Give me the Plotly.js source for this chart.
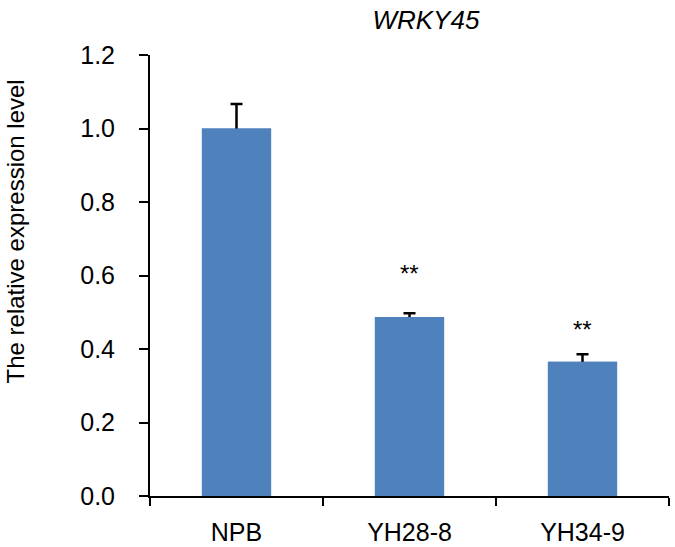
<!DOCTYPE html>
<html>
<head>
<meta charset="utf-8">
<script src="https://cdn.plot.ly/plotly-3.0.1.min.js"></script>
<style>
  html, body { margin: 0; padding: 0; background: #fff; }
  #myDiv { width: 675px; height: 547px; }
</style>
</head>
<body>
<div id="myDiv"></div>
<script>
'use strict';
var lines = ['NPB', 'YH28-8', 'YH34-9'];
var expression = [1.0, 0.487, 0.365];
var errors = [0.067, 0.010, 0.021];
var marks = ['', '**', '**'];
var yTicks = [0, 0.2, 0.4, 0.6, 0.8, 1.0, 1.2];

var fontFam = 'Liberation Sans, Arial, sans-serif';
var barBlue = 'rgb(79,129,189)';

// bars with the error bars, the lower half of each is hidden by the copy drawn on top
var trace1 = {
  type: 'bar',
  x: lines,
  y: expression,
  width: 0.4,
  marker: {color: barBlue},
  error_y: {
    type: 'data',
    array: errors,
    color: '#000',
    thickness: 2.5,
    width: 6
  }
};
var trace2 = {
  type: 'bar',
  x: lines,
  y: expression,
  width: 0.4,
  marker: {color: barBlue}
};

// pixel lift of the stars above each error bar
var lift = [0, 24, 9];
var notes = [];
lines.forEach(function (name, i) {
  if (!marks[i]) return;
  notes.push({
    x: name,
    y: expression[i] + errors[i],
    text: marks[i],
    showarrow: false,
    yanchor: 'bottom',
    yshift: lift[i],
    font: {family: fontFam, size: 24, color: '#000'}
  });
});
notes.push({
  xref: 'paper',
  yref: 'paper',
  x: -0.26,
  y: 0.6,
  xanchor: 'center',
  yanchor: 'middle',
  textangle: -90,
  text: 'The relative expression level',
  showarrow: false,
  font: {family: fontFam, size: 24, color: '#000'}
});

var layout = {
  width: 675,
  height: 547,
  margin: {l: 150, r: 6, t: 55, b: 51},
  paper_bgcolor: 'white',
  plot_bgcolor: 'white',
  showlegend: false,
  barmode: 'overlay',
  title: {
    text: 'WRKY45',
    font: {family: fontFam, size: 26, color: '#000', style: 'italic'},
    xref: 'container',
    x: 0.631,
    xanchor: 'center',
    yref: 'container',
    y: 0.963,
    yanchor: 'middle'
  },
  xaxis: {
    type: 'category',
    range: [-0.5, 2.5],
    showline: true,
    linecolor: '#000',
    linewidth: 2,
    ticks: 'outside',
    tickson: 'boundaries',
    ticklen: 8,
    tickwidth: 2,
    tickcolor: '#000',
    ticklabelstandoff: 13,
    tickfont: {family: fontFam, size: 25, color: '#000'},
    showgrid: false,
    zeroline: false,
    fixedrange: true
  },
  yaxis: {
    range: [0, 1.2],
    tickvals: yTicks,
    tickformat: '.1f',
    showline: true,
    linecolor: '#000',
    linewidth: 2,
    ticks: 'outside',
    ticklen: 9,
    tickwidth: 2,
    tickcolor: '#000',
    ticklabelstandoff: 19,
    tickfont: {family: fontFam, size: 25, color: '#000'},
    showgrid: false,
    zeroline: false,
    automargin: false,
    fixedrange: true
  },
  annotations: notes
};

Plotly.newPlot('myDiv', [trace1, trace2], layout, {displayModeBar: false, staticPlot: true});
</script>
</body>
</html>
